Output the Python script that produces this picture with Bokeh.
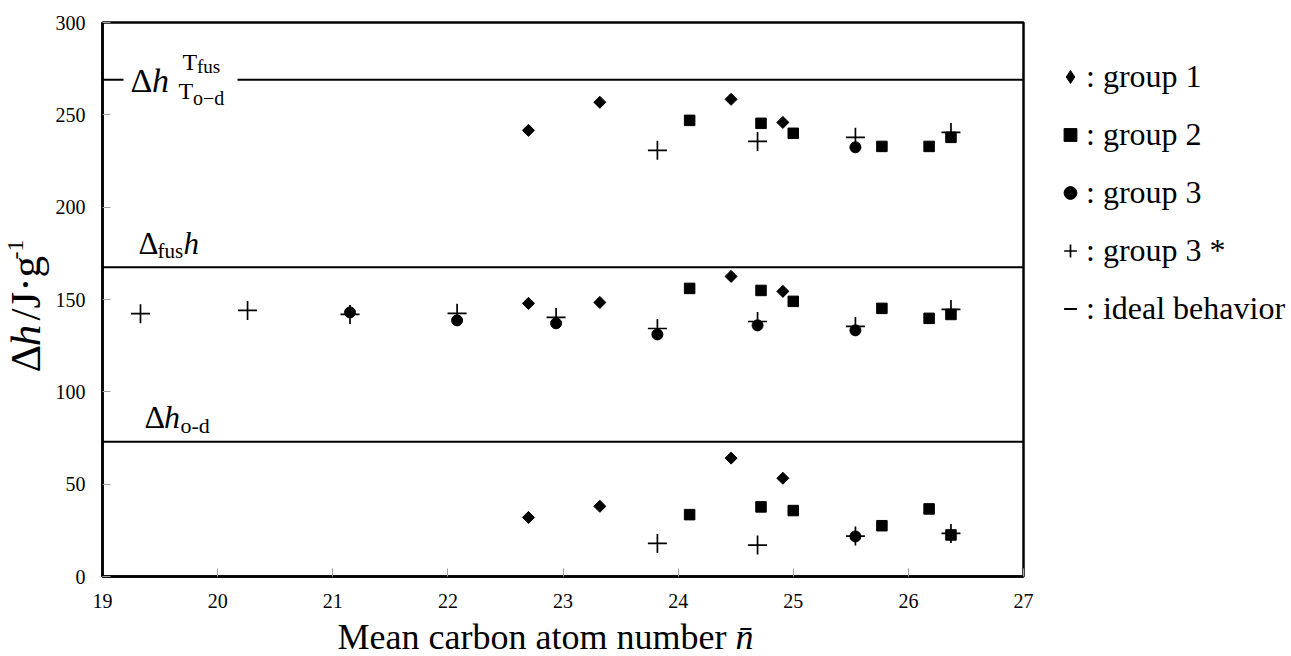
import math

from bokeh.embed import file_html
from bokeh.layouts import column, row
from bokeh.models import ColumnDataSource, FixedTicker, Label, Legend, LegendItem, Range1d
from bokeh.plotting import figure
from bokeh.resources import INLINE

nan = float("nan")

# Mean carbon atom number of each mixture
n_group1 = [22.70, 23.32, 24.46, 24.91]
n_group2 = [24.10, 24.72, 25.00, 25.77, 26.18, 26.37]
n_group3 = [21.15, 22.08, 22.94, 23.82, 24.69, 25.54]
n_group3s = [19.33, 20.26, 21.15, 22.08, 22.94, 23.82, 24.69, 25.54, 26.37]

# Total enthalpy between T_o-d and T_fus (J/g)
tot_group1 = [241.6, 256.8, 258.4, 245.9]
tot_group2 = [247.0, 245.4, 240.0, 232.9, 232.9, 237.8]
tot_group3 = [nan, nan, nan, nan, nan, 232.4]
tot_group3s = [nan, nan, nan, nan, nan, 230.8, 235.6, 237.8, 240.5]

# Enthalpy of fusion (J/g)
fus_group1 = [147.9, 148.4, 162.5, 154.4]
fus_group2 = [156.0, 154.9, 149.0, 145.2, 139.8, 141.9]
fus_group3 = [143.0, 138.7, 137.1, 131.1, 136.0, 133.3]
fus_group3s = [142.3, 144.1, 141.9, 142.5, 140.3, 134.3, 138.1, 135.4, 144.6]

# Order-disorder transition enthalpy (J/g)
od_group1 = [32.0, 38.0, 64.1, 53.2]
od_group2 = [33.5, 37.7, 35.7, 27.5, 36.6, 22.5]
od_group3 = [nan, nan, nan, nan, nan, 21.7]
od_group3s = [nan, nan, nan, nan, nan, 17.9, 17.0, 21.9, 23.3]

# Ideal-behaviour levels (J/g)
ideal_total = 269.0
ideal_fus = 167.5
ideal_od = 73.0

x_ticks = [19, 20, 21, 22, 23, 24, 25, 26, 27]
y_ticks = [0, 50, 100, 150, 200, 250, 300]

legend_labels = [": group 1", ": group 2", ": group 3", ": group 3 *", ": ideal behavior"]

FONT = "Liberation Serif"
MID = 0.34             # em distance from the alphabetic baseline up to the text middle
W, H = 1291, 656
LEFT_W = 50            # strip holding the y-axis title
MAIN_H = 616           # main plot height; the x-axis title strip sits below it
FRAME_L, FRAME_R, FRAME_T, FRAME_B = 102, 1023, 22, 576   # frame edges on the page
MAIN_W = FRAME_R + 15 - LEFT_W
RIGHT_W = W - LEFT_W - MAIN_W
BOTTOM_H = H - MAIN_H


def dx(px):
    """page x pixel -> data x of the main plot"""
    return x_ticks[0] + (px - FRAME_L) * (x_ticks[-1] - x_ticks[0]) / (FRAME_R - FRAME_L)


def dy(py):
    """page y pixel -> data y of the main plot"""
    return y_ticks[0] + (FRAME_B - py) * (y_ticks[-1] - y_ticks[0]) / (FRAME_B - FRAME_T)


def same(v):
    return v


def label(fig, text, px, py, size, style="normal", vertical=False, fx=same, fy=same):
    """Place text whose alphabetic baseline starts at page pixel (px, py)."""
    if vertical:
        px -= MID * size
    else:
        py -= MID * size
    fig.add_layout(Label(
        x=fx(px), y=fy(py), text=text,
        text_font=FONT, text_font_size=f"{size}px", text_font_style=style,
        text_color="black", text_baseline="middle", text_align="left",
        angle=math.pi / 2 if vertical else 0.0,
    ))


def strip(w, h, x0, x1, y0, y1, top=0, bottom=0):
    """Axis-less figure whose data coordinates are page pixels."""
    f = figure(width=w, height=h, x_range=Range1d(x0, x1), y_range=Range1d(y0, y1),
               title=None, toolbar_location=None, output_backend="svg",
               min_border_left=0, min_border_right=0,
               min_border_top=top, min_border_bottom=bottom,
               x_axis_location=None, y_axis_location=None,
               outline_line_color=None, background_fill_color="white",
               border_fill_color="white")
    f.grid.visible = False
    return f


# ---------------- main plot ----------------
p = figure(
    width=MAIN_W, height=MAIN_H, title=None,
    x_range=Range1d(x_ticks[0], x_ticks[-1]), y_range=Range1d(y_ticks[0], y_ticks[-1]),
    output_backend="svg", toolbar_location=None,
    min_border_left=FRAME_L - LEFT_W, min_border_right=LEFT_W + MAIN_W - FRAME_R,
    min_border_top=FRAME_T, min_border_bottom=MAIN_H - FRAME_B,
    background_fill_color="white", border_fill_color="white",
)
p.grid.visible = False
p.outline_line_color = "black"
p.outline_line_width = 2.5

for ax, ticks in ((p.xaxis, x_ticks), (p.yaxis, y_ticks)):
    ax.ticker = FixedTicker(ticks=ticks)
    ax.axis_line_width = 2.5
    ax.axis_line_color = "black"
    ax.major_tick_in = 8
    ax.major_tick_out = 0
    ax.major_tick_line_color = "#a0a0a0"
    ax.major_tick_line_width = 1
    ax.minor_tick_line_color = None
    ax.major_label_text_font = FONT
    ax.major_label_text_font_size = "20px"
    ax.major_label_text_color = "black"
p.xaxis.major_label_standoff = 17
p.yaxis.major_label_standoff = 17

# ideal-behaviour levels; the top one is broken where its name sits
gap_l, gap_r = dx(123), dx(237)
p.segment(
    x0=[x_ticks[0], gap_r, x_ticks[0], x_ticks[0]],
    x1=[gap_l, x_ticks[-1], x_ticks[-1], x_ticks[-1]],
    y0=[ideal_total, ideal_total, ideal_fus, ideal_od],
    y1=[ideal_total, ideal_total, ideal_fus, ideal_od],
    line_color="black", line_width=2,
)


def stacked(n, *bands):
    xs, ys = [], []
    for band in bands:
        xs += n
        ys += band
    return ColumnDataSource(dict(x=xs, y=ys))


src1 = stacked(n_group1, tot_group1, fus_group1, od_group1)
src2 = stacked(n_group2, tot_group2, fus_group2, od_group2)
src3 = stacked(n_group3, tot_group3, fus_group3, od_group3)
src3s = stacked(n_group3s, tot_group3s, fus_group3s, od_group3s)

p.scatter("x", "y", source=src1, marker="square", angle=math.pi / 4, size=8.5,
          fill_color="black", line_color="black")
p.scatter("x", "y", source=src2, marker="square", size=10.5,
          fill_color="black", line_color="black")
p.scatter("x", "y", source=src3, marker="circle", size=11,
          fill_color="black", line_color="black")
p.scatter("x", "y", source=src3s, marker="cross", size=19,
          line_color="black", line_width=1.7)

# names of the three levels
main_xy = dict(fx=dx, fy=dy)
label(p, "\u0394", 130, 92, 34, **main_xy)
label(p, "h", 151.5, 92, 34, "italic", **main_xy)
label(p, "T", 182, 70, 24, **main_xy)
label(p, "fus", 196.5, 72, 19, **main_xy)
label(p, "T", 178, 99, 24, **main_xy)
label(p, "o\u2212d", 192.5, 104, 20, **main_xy)

label(p, "\u0394", 138, 254, 31, **main_xy)
label(p, "fus", 157, 258, 21, **main_xy)
label(p, "h", 183, 254, 31, "italic", **main_xy)

label(p, "\u0394", 144, 427, 32, **main_xy)
label(p, "h", 163.5, 427, 32, "italic", **main_xy)
label(p, "o-d", 180, 432, 22, **main_xy)

# ---------------- y-axis title strip ----------------
left = strip(LEFT_W, MAIN_H, 0, LEFT_W, FRAME_B, FRAME_T,
             top=FRAME_T, bottom=MAIN_H - FRAME_B)
label(left, "\u0394", 40, 372, 43, vertical=True)
label(left, "h", 40, 345.7, 43, "italic", vertical=True)
label(left, "/J\u00b7g", 40, 320, 43, vertical=True)
label(left, "-1", 23, 259, 24, vertical=True)

# ---------------- legend strip ----------------
right = strip(RIGHT_W, MAIN_H, 0, RIGHT_W, 0, FRAME_B - FRAME_T,
              top=FRAME_T, bottom=MAIN_H - FRAME_B)
off = [-50]   # swatch renderers sit outside the strip's range; only their legend glyphs show
keys = [
    right.scatter(x=off, y=off, marker="diamond", fill_color="black", line_color="black"),
    right.scatter(x=off, y=off, marker="square", fill_color="black", line_color="black"),
    right.scatter(x=off, y=off, marker="circle", fill_color="black", line_color="black"),
    right.scatter(x=off, y=off, marker="cross", line_color="black", line_width=1.7),
    right.scatter(x=off, y=off, marker="dash", line_color="black", line_width=2),
]
legend = Legend(
    items=[LegendItem(label=t, renderers=[k]) for t, k in zip(legend_labels, keys)],
    location=(16, 249),
    orientation="vertical",
    label_text_font=FONT, label_text_font_size="32px", label_text_color="black",
    glyph_width=32, glyph_height=37, label_height=37,
    spacing=21, padding=4, margin=0, label_standoff=0,
    border_line_color=None, background_fill_alpha=0,
)
right.add_layout(legend)

# ---------------- x-axis title strip ----------------
bottom = strip(W, BOTTOM_H, 0, W, H, MAIN_H)
label(bottom, "Mean carbon atom number", 337, 648.3, 36)
label(bottom, "n\u0304", 735, 648.3, 36, "italic")

page = column(row(left, p, right), bottom)
open("out.html", "w").write(file_html(page, INLINE))
